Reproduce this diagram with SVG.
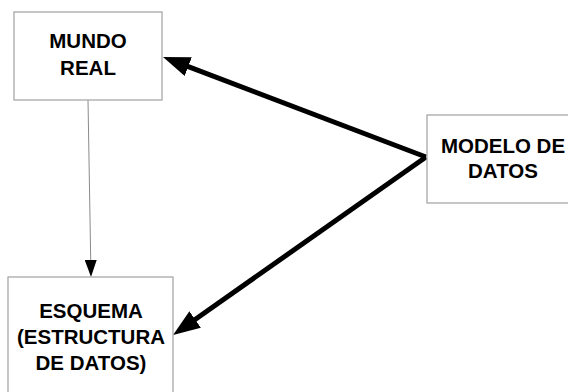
<svg xmlns="http://www.w3.org/2000/svg" width="568" height="392" viewBox="0 0 568 392">
  <style>
    .box { fill: #ffffff; stroke: #a0a0a0; stroke-width: 1.2; }
    .label { font-family: "Liberation Sans", Arial, sans-serif; font-weight: bold; font-size: 20.5px; fill: #000000; text-anchor: middle; }
    .thick { stroke: #000000; stroke-width: 5; fill: none; }
    .thin { stroke: #8a8a8a; stroke-width: 1; fill: none; }
  </style>
  <defs>
    <marker id="bigHead" markerUnits="userSpaceOnUse" markerWidth="28" markerHeight="20" refX="7" refY="10" orient="auto">
      <path d="M0,0 L27,10 L0,20 Z" fill="#000000"/>
    </marker>
    <marker id="smallHead" markerUnits="userSpaceOnUse" markerWidth="18" markerHeight="12" refX="5" refY="6" orient="auto">
      <path d="M0,0 L17,6 L0,12 Z" fill="#000000"/>
    </marker>
  </defs>
  <rect width="568" height="392" fill="#ffffff"/>

  <g id="connectors">
    <line class="thick" x1="426" y1="157" x2="181.7" y2="64.1" marker-end="url(#bigHead)"/>
    <line class="thick" x1="426" y1="157" x2="189.4" y2="323.5" marker-end="url(#bigHead)"/>
    <line class="thin" x1="88" y1="100" x2="90.8" y2="265" marker-end="url(#smallHead)"/>
  </g>

  <g id="mundo-real">
    <rect class="box" x="14" y="12" width="148" height="88"/>
    <text class="label" x="88" y="48">MUNDO</text>
    <text class="label" x="88" y="75">REAL</text>
  </g>

  <g id="esquema">
    <rect class="box" x="8" y="277" width="165" height="125"/>
    <text class="label" x="91" y="318">ESQUEMA</text>
    <text class="label" x="91" y="344">(ESTRUCTURA</text>
    <text class="label" x="91" y="370">DE DATOS)</text>
  </g>

  <g id="modelo-de-datos">
    <rect class="box" x="427" y="115" width="150" height="88"/>
    <text class="label" x="503" y="153">MODELO DE</text>
    <text class="label" x="503" y="178">DATOS</text>
  </g>
</svg>
